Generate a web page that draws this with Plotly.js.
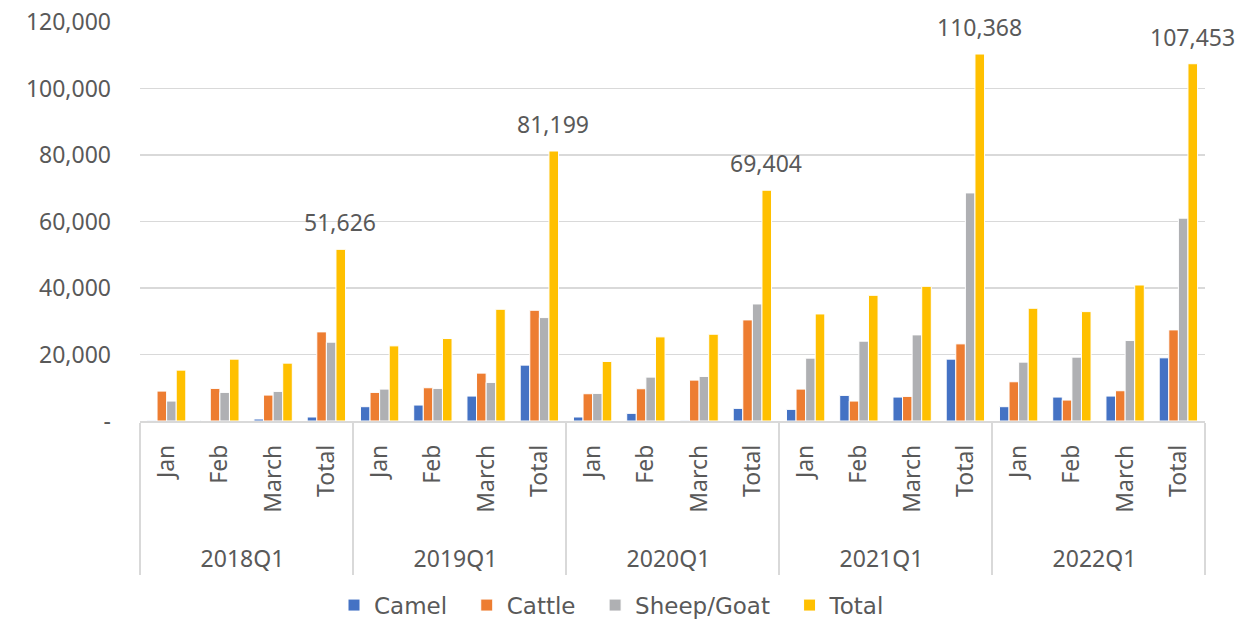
<!DOCTYPE html>
<html>
<head>
<meta charset="utf-8">
<script src="https://cdn.plot.ly/plotly-3.0.1.min.js"></script>
<style>
  html, body { margin: 0; padding: 0; background: #fff; }
  #chart { width: 1238px; height: 620px; }
</style>
</head>
<body>
<div id="chart"></div>
<script>
// Quarterly livestock counts (Q1 of each year), by month and quarter total
const quarters = ["2018Q1", "2019Q1", "2020Q1", "2021Q1", "2022Q1"];
const periods = ["Jan", "Feb", "March", "Total"];
const seriesNames = ["Camel", "Cattle", "Sheep/Goat", "Total"];

const camel = [
  200, 150, 600, 1200,
  4300, 4800, 7500, 16800,
  1200, 2300, 200, 3800,
  3500, 7700, 7200, 18600,
  4300, 7200, 7500, 19000
];
const cattle = [
  9000, 9800, 7800, 26800,
  8600, 10000, 14400, 33300,
  8200, 9700, 12300, 30400,
  9600, 6000, 7400, 23200,
  11800, 6300, 9100, 27400
];
const sheepGoat = [
  6000, 8600, 8900, 23700,
  9600, 9800, 11600, 31100,
  8300, 13200, 13400, 35200,
  18900, 24000, 25900, 68600,
  17700, 19200, 24200, 61000
];
const total = [
  15300, 18600, 17400, 51626,
  22600, 24800, 33600, 81199,
  17900, 25300, 26100, 69404,
  32200, 37800, 40500, 110368,
  33900, 32900, 40900, 107453
];

const yTicks = [0, 20000, 40000, 60000, 80000, 100000, 120000];
const yTickText = ["-", "20,000", "40,000", "60,000", "80,000", "100,000", "120,000"];

const FONT = "Noto Sans, sans-serif";
const LEGEND_FONT = "DejaVu Sans, sans-serif";
const TEXT = "#595959";
const FS = 23;

// Leading no-break spaces lengthen the rotated month labels downward,
// which gives the quarter row more room below them.
const PAD = "\u00a0\u00a0\u00a0\u00a0";
// Trailing no-break spaces widen the gap between legend entries.
const LEGEND_GAP = "\u00a0\u00a0";

// Two-level category positions: outer = quarter, inner = month/total
const outer = [], inner = [];
quarters.forEach(q => periods.forEach(p => { outer.push(q); inner.push(PAD + p); }));
const xCats = [outer, inner];

function barTrace(name, values, color) {
  return {
    type: "bar",
    name: name + LEGEND_GAP,
    x: xCats,
    y: values,
    marker: { color: color, line: { color: "#ffffff", width: 1 } },
    hoverinfo: "x+y"
  };
}

const data = [
  barTrace(seriesNames[0], camel, "#4472C4"),
  barTrace(seriesNames[1], cattle, "#ED7D31"),
  barTrace(seriesNames[2], sheepGoat, "#AFB0B3"),
  barTrace(seriesNames[3], total, "#FFC000")
];

// Value labels above the quarter-total bars (x given as category index)
const annotations = [];
total.forEach((v, i) => {
  if (i % periods.length !== periods.length - 1) return;
  annotations.push({
    x: i,
    y: v,
    xref: "x", yref: "y",
    text: v.toLocaleString("en-US"),
    showarrow: false,
    yanchor: "bottom",
    yshift: 9,
    xshift: 14,
    font: { family: FONT, size: FS, color: TEXT }
  });
});

const layout = {
  width: 1238,
  height: 620,
  margin: { l: 140, r: 33, t: 22, b: 199 },
  paper_bgcolor: "#ffffff",
  plot_bgcolor: "#ffffff",
  font: { family: FONT, color: TEXT, size: FS },
  barmode: "group",
  bargap: 0.28,
  bargroupgap: 0,
  showlegend: true,
  legend: {
    orientation: "h",
    xref: "container",
    x: 0.5, xanchor: "center",
    yref: "container",
    y: 0.024, yanchor: "middle",
    font: { family: LEGEND_FONT, size: 23, color: TEXT },
    itemwidth: 30,
    tracegroupgap: 0
  },
  xaxis: {
    type: "multicategory",
    range: [-0.5, 19.5],
    tickangle: -90,
    tickfont: { family: FONT, size: FS, color: TEXT },
    ticklabelstandoff: 13,
    showline: true,
    linecolor: "#d9d9d9",
    linewidth: 1.5,
    showdividers: true,
    dividercolor: "#d9d9d9",
    dividerwidth: 1.5,
    ticks: "",
    automargin: false
  },
  yaxis: {
    range: [0, 120000],
    tickvals: yTicks,
    ticktext: yTickText,
    showgrid: true,
    gridcolor: "#d9d9d9",
    gridwidth: 1.5,
    zeroline: false,
    showline: false,
    ticks: "",
    ticklabelstandoff: 28,
    tickfont: { family: FONT, size: FS, color: TEXT },
    automargin: false
  },
  annotations: annotations
};

Plotly.newPlot("chart", data, layout, { displayModeBar: false, staticPlot: true });
</script>
</body>
</html>
